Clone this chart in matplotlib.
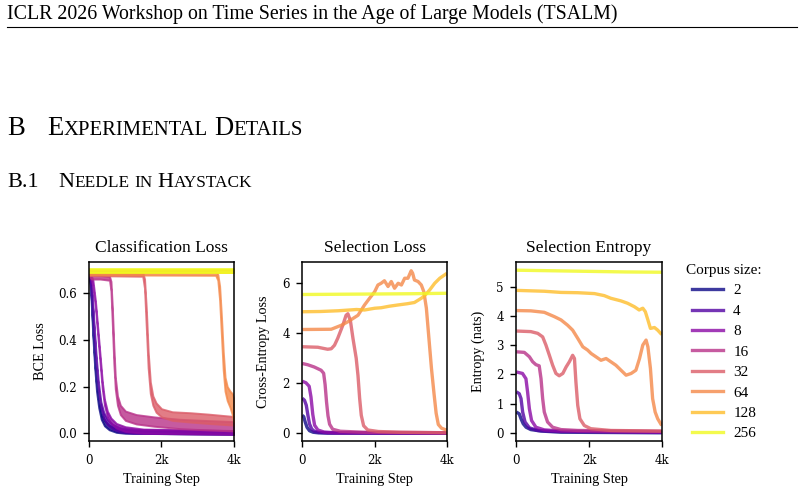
import matplotlib
matplotlib.use("Agg")
import matplotlib.pyplot as plt
import numpy as np
from matplotlib.lines import Line2D

# ---------------- data ----------------
corpus_sizes = [2, 4, 8, 16, 32, 64, 128, 256]
step_ticks = [0, 2000, 4000]
step_labels = ["0", "2k", "4k"]

# Classification loss: (step, low, high) of the noisy band
cls_2 = [(0, 0.684, 0.698), (50, 0.57, 0.6), (100, 0.41, 0.44), (150, 0.28, 0.31), (200, 0.18, 0.21),
         (260, 0.11, 0.135), (330, 0.06, 0.085), (420, 0.032, 0.055), (550, 0.015, 0.035),
         (750, 0.004, 0.02), (1000, 0.0, 0.014), (4000, -0.004, 0.008)]
cls_4 = [(0, 0.684, 0.698), (70, 0.59, 0.62), (130, 0.44, 0.47), (190, 0.3, 0.33), (250, 0.19, 0.22),
         (320, 0.11, 0.135), (400, 0.065, 0.09), (500, 0.037, 0.06), (650, 0.018, 0.038),
         (850, 0.006, 0.024), (1200, 0.0, 0.016), (4000, -0.004, 0.01)]
cls_8 = [(0, 0.684, 0.698), (100, 0.63, 0.655), (170, 0.54, 0.565), (240, 0.41, 0.44), (300, 0.3, 0.33),
         (360, 0.19, 0.22), (420, 0.12, 0.145), (500, 0.07, 0.095), (600, 0.042, 0.065),
         (750, 0.022, 0.042), (1000, 0.008, 0.028), (1500, 0.0, 0.018), (4000, -0.004, 0.012)]
cls_16 = [(0, 0.672, 0.698), (60, 0.66, 0.68), (300, 0.66, 0.676), (560, 0.655, 0.671), (600, 0.61, 0.65),
          (640, 0.46, 0.53), (680, 0.3, 0.37), (720, 0.19, 0.24), (780, 0.12, 0.16), (860, 0.08, 0.12),
          (1000, 0.055, 0.095), (1300, 0.04, 0.08), (1800, 0.03, 0.07), (2500, 0.02, 0.06),
          (3200, 0.015, 0.055), (4000, 0.01, 0.05)]
cls_32 = [(0, 0.675, 0.692), (1480, 0.672, 0.688), (1530, 0.62, 0.66), (1580, 0.45, 0.53),
          (1630, 0.28, 0.35), (1690, 0.17, 0.22), (1760, 0.12, 0.16), (1850, 0.09, 0.13),
          (2000, 0.07, 0.105), (2300, 0.055, 0.092), (2800, 0.048, 0.088), (3300, 0.042, 0.082),
          (4000, 0.035, 0.072)]
cls_64 = [(0, 0.678, 0.694), (3500, 0.676, 0.692), (3560, 0.655, 0.68), (3610, 0.57, 0.63),
          (3660, 0.42, 0.5), (3710, 0.27, 0.35), (3760, 0.18, 0.24), (3820, 0.14, 0.2),
          (3900, 0.11, 0.18), (3960, 0.08, 0.17), (4000, 0.05, 0.15)]
cls_128 = [(0, 0.686, 0.7), (4000, 0.686, 0.7)]
cls_256 = [(0, 0.685, 0.702), (4000, 0.685, 0.702)]

# Selection loss: (step, value)
sel_2 = [(0, 0.72), (40, 0.66), (80, 0.45), (130, 0.24), (200, 0.1), (300, 0.04), (450, 0.015),
         (700, 0.005), (4000, 0.0)]
sel_4 = [(0, 1.4), (60, 1.32), (110, 1.12), (155, 0.72), (200, 0.37), (260, 0.17), (330, 0.08),
         (450, 0.04), (700, 0.015), (4000, 0.005)]
sel_8 = [(0, 2.08), (100, 2.02), (190, 1.88), (240, 1.45), (290, 0.75), (340, 0.32), (430, 0.13),
         (600, 0.05), (900, 0.02), (4000, 0.01)]
sel_16 = [(0, 2.79), (150, 2.74), (330, 2.65), (520, 2.52), (590, 2.4), (630, 1.95), (670, 1.25),
          (710, 0.7), (755, 0.36), (840, 0.16), (1050, 0.08), (1700, 0.04), (4000, 0.02)]
sel_32 = [(0, 3.46), (430, 3.44), (700, 3.36), (800, 3.38), (890, 3.52), (980, 3.8), (1120, 4.32),
          (1210, 4.72), (1260, 4.78), (1330, 4.5), (1400, 3.8), (1490, 3.0), (1540, 2.3), (1585, 1.4),
          (1630, 0.72), (1695, 0.3), (1810, 0.13), (2100, 0.07), (2700, 0.04), (4000, 0.02)]
sel_64 = [(0, 4.15), (800, 4.16), (1080, 4.32), (1260, 4.46), (1540, 4.72), (1720, 5.13), (1860, 5.4),
          (2000, 5.66), (2090, 5.93), (2180, 6.0), (2270, 6.1), (2370, 5.87), (2460, 6.07), (2550, 5.8),
          (2650, 6.0), (2740, 5.93), (2830, 6.2), (2920, 6.2), (3010, 6.5), (3050, 6.4), (3100, 6.13),
          (3200, 6.07), (3290, 5.93), (3360, 5.66), (3430, 5.0), (3500, 3.8), (3570, 2.6), (3640, 1.6),
          (3700, 0.8), (3760, 0.35), (3850, 0.2), (4000, 0.12)]
sel_128 = [(0, 4.86), (500, 4.87), (1000, 4.9), (1500, 4.95), (1720, 4.93), (2000, 5.0), (2180, 5.02),
           (2400, 5.08), (2640, 5.13), (2900, 5.18), (3100, 5.23), (3290, 5.4), (3380, 5.5),
           (3520, 5.73), (3660, 6.0), (3800, 6.2), (3940, 6.34), (4000, 6.4)]
sel_256 = [(0, 5.55), (1000, 5.56), (2000, 5.57), (3000, 5.58), (4000, 5.6)]

# Selection entropy: (step, value)
ent_2 = [(0, 0.71), (80, 0.65), (130, 0.48), (190, 0.31), (270, 0.19), (400, 0.11), (680, 0.06),
         (1230, 0.02), (4000, 0.0)]
ent_4 = [(0, 1.4), (80, 1.34), (130, 1.17), (175, 0.71), (240, 0.37), (360, 0.17), (590, 0.08),
         (950, 0.05), (4000, 0.02)]
ent_8 = [(0, 2.08), (170, 2.03), (265, 1.85), (310, 1.4), (360, 0.82), (420, 0.42), (540, 0.19),
         (770, 0.1), (1230, 0.06), (4000, 0.02)]
ent_16 = [(0, 2.77), (220, 2.75), (360, 2.6), (450, 2.43), (540, 2.33), (630, 2.29), (680, 1.85),
          (725, 1.17), (770, 0.71), (860, 0.37), (1000, 0.19), (1230, 0.11), (1690, 0.08), (4000, 0.05)]
ent_32 = [(0, 3.48), (400, 3.46), (590, 3.4), (725, 3.28), (815, 3.0), (910, 2.65), (1000, 2.31),
          (1090, 2.03), (1180, 1.95), (1280, 2.03), (1370, 2.25), (1460, 2.43), (1550, 2.65),
          (1600, 2.54), (1640, 1.74), (1690, 0.94), (1750, 0.48), (1870, 0.25), (2050, 0.14),
          (2600, 0.08), (4000, 0.06)]
ent_64 = [(0, 4.18), (400, 4.17), (770, 4.12), (1050, 3.97), (1230, 3.86), (1410, 3.68), (1550, 3.51),
          (1690, 3.23), (1830, 2.94), (1960, 2.83), (2060, 2.71), (2190, 2.6), (2330, 2.48),
          (2470, 2.54), (2600, 2.43), (2740, 2.31), (2880, 2.14), (3020, 1.97), (3160, 2.03),
          (3290, 2.14), (3390, 2.54), (3480, 3.0), (3570, 3.17), (3620, 2.94), (3690, 2.2),
          (3750, 1.17), (3820, 0.71), (3890, 0.48), (4000, 0.25)]
ent_128 = [(0, 4.87), (770, 4.84), (1230, 4.8), (1690, 4.79), (2150, 4.76), (2420, 4.69), (2600, 4.6),
           (2880, 4.51), (3060, 4.43), (3250, 4.31), (3380, 4.2), (3480, 4.26), (3550, 4.14),
           (3620, 3.86), (3690, 3.57), (3800, 3.6), (3890, 3.51), (4000, 3.36)]
ent_256 = [(0, 5.56), (1000, 5.54), (2000, 5.52), (3000, 5.5), (4000, 5.49)]

cls_series = [cls_2, cls_4, cls_8, cls_16, cls_32, cls_64, cls_128, cls_256]
sel_series = [sel_2, sel_4, sel_8, sel_16, sel_32, sel_64, sel_128, sel_256]
ent_series = [ent_2, ent_4, ent_8, ent_16, ent_32, ent_64, ent_128, ent_256]

# ---------------- style ----------------
W, H = 804, 494
SERIF = "Liberation Serif"
TICKFONT = "DejaVu Serif"
colors = plt.cm.plasma(np.linspace(0, 1, len(corpus_sizes)))
ALPHA = 0.8
LW = 2.4

fig = plt.figure(figsize=(W / 100, H / 100), dpi=100)
fig.patch.set_facecolor("white")


def px_axes(left, top, right, bottom):
    return fig.add_axes([left / W, 1 - bottom / H, (right - left) / W, (bottom - top) / H])


axes = [px_axes(89.3, 262, 233.7, 441),
        px_axes(302.3, 262, 447.0, 441),
        px_axes(516.3, 262, 661.7, 441)]
titles = ["Classification Loss", "Selection Loss", "Selection Entropy"]
ylabels = ["BCE Loss", "Cross-Entropy Loss", "Entropy (nats)"]
ylims = [(-0.033, 0.733), (-0.31, 6.85), (-0.28, 5.84)]
yticks = [[0, 0.2, 0.4, 0.6], [0, 2, 4, 6], [0, 1, 2, 3, 4, 5]]
yfmt = ["{:.1f}", "{:.0f}", "{:.0f}"]
ylab_x = [-0.295, -0.225, -0.215]

# Panel 1: noisy bands with an outline so steep parts keep their thickness
ax = axes[0]
for c, s in zip(colors, cls_series):
    x = [p[0] for p in s]
    lo = [p[1] for p in s]
    hi = [p[2] for p in s]
    ax.fill_between(x, lo, hi, facecolor=c, edgecolor=c, alpha=ALPHA, lw=1.4)

for ax, series in zip(axes[1:], [sel_series, ent_series]):
    for c, s in zip(colors, series):
        ax.plot([p[0] for p in s], [p[1] for p in s], color=c, alpha=ALPHA, lw=LW,
                solid_capstyle="butt")

for i, ax in enumerate(axes):
    ax.set_xlim(0, 4000)
    ax.set_ylim(*ylims[i])
    ax.set_xticks(step_ticks)
    ax.set_xticklabels(step_labels)
    ax.set_yticks(yticks[i])
    ax.set_yticklabels([yfmt[i].format(v) for v in yticks[i]])
    for lab in ax.get_xticklabels() + ax.get_yticklabels():
        lab.set_fontfamily(TICKFONT)
        lab.set_fontsize(8.5)
        lab.set_color("#222222")
    ax.tick_params(direction="out", length=4.5, width=1.0, pad=4.5, colors="black")
    for sp in ax.spines.values():
        sp.set_linewidth(1.1)
    ax.set_title(titles[i], family=SERIF, fontsize=12.5, pad=7)
    ax.set_xlabel("Training Step", family=SERIF, fontsize=10.2, labelpad=5)
    ax.set_ylabel(ylabels[i], family=SERIF, fontsize=10.2)
    ax.yaxis.set_label_coords(ylab_x[i], 0.5)

handles = [Line2D([], [], color=c, alpha=ALPHA, lw=LW) for c in colors]
leg = fig.legend(handles, [str(n) for n in corpus_sizes], title="Corpus size:",
                 loc="upper left", bbox_to_anchor=(683 / W, 1 - 261 / H), frameon=False,
                 prop={"family": SERIF, "size": 11}, handlelength=2.07, handletextpad=0.65,
                 labelspacing=0.44, borderaxespad=0, borderpad=0.2)
leg.get_title().set_family(SERIF)
leg.get_title().set_fontsize(11)

# ---------------- page text ----------------
renderer = fig.canvas.get_renderer()


def draw_pieces(x_px, base_px, pieces):
    x = x_px
    for item in pieces:
        if isinstance(item, (int, float)):
            x += item
            continue
        s, size = item
        t = fig.text(x / W, 1 - base_px / H, s, family=SERIF, fontsize=size,
                     ha="left", va="baseline", color="black")
        x += t.get_window_extent(renderer).width


fig.text(7 / W, 1 - 19.5 / H, "ICLR 2026 Workshop on Time Series in the Age of Large Models (TSALM)",
         family=SERIF, fontsize=14.3, ha="left", va="baseline")
fig.add_artist(Line2D([7 / W, 797 / W], [1 - 27.3 / H, 1 - 27.3 / H], color="black", lw=0.8))

big, small = 19.2, 14.9
fig.text(7 / W, 1 - 135 / H, "B", family=SERIF, fontsize=big, ha="left", va="baseline")
draw_pieces(47, 135, [("E", big), ("XPERIMENTAL", small), 6.5, ("D", big), ("ETAILS", small)])

big2, small2 = 16.0, 12.4
fig.text(7 / W, 1 - 187 / H, "B.1", family=SERIF, fontsize=big2, ha="left", va="baseline")
draw_pieces(58, 187, [("N", big2), ("EEDLE", small2), 5.0, ("IN", small2), 5.0,
                      ("H", big2), ("AYSTACK", small2)])

fig.savefig("out.png", dpi=100)
